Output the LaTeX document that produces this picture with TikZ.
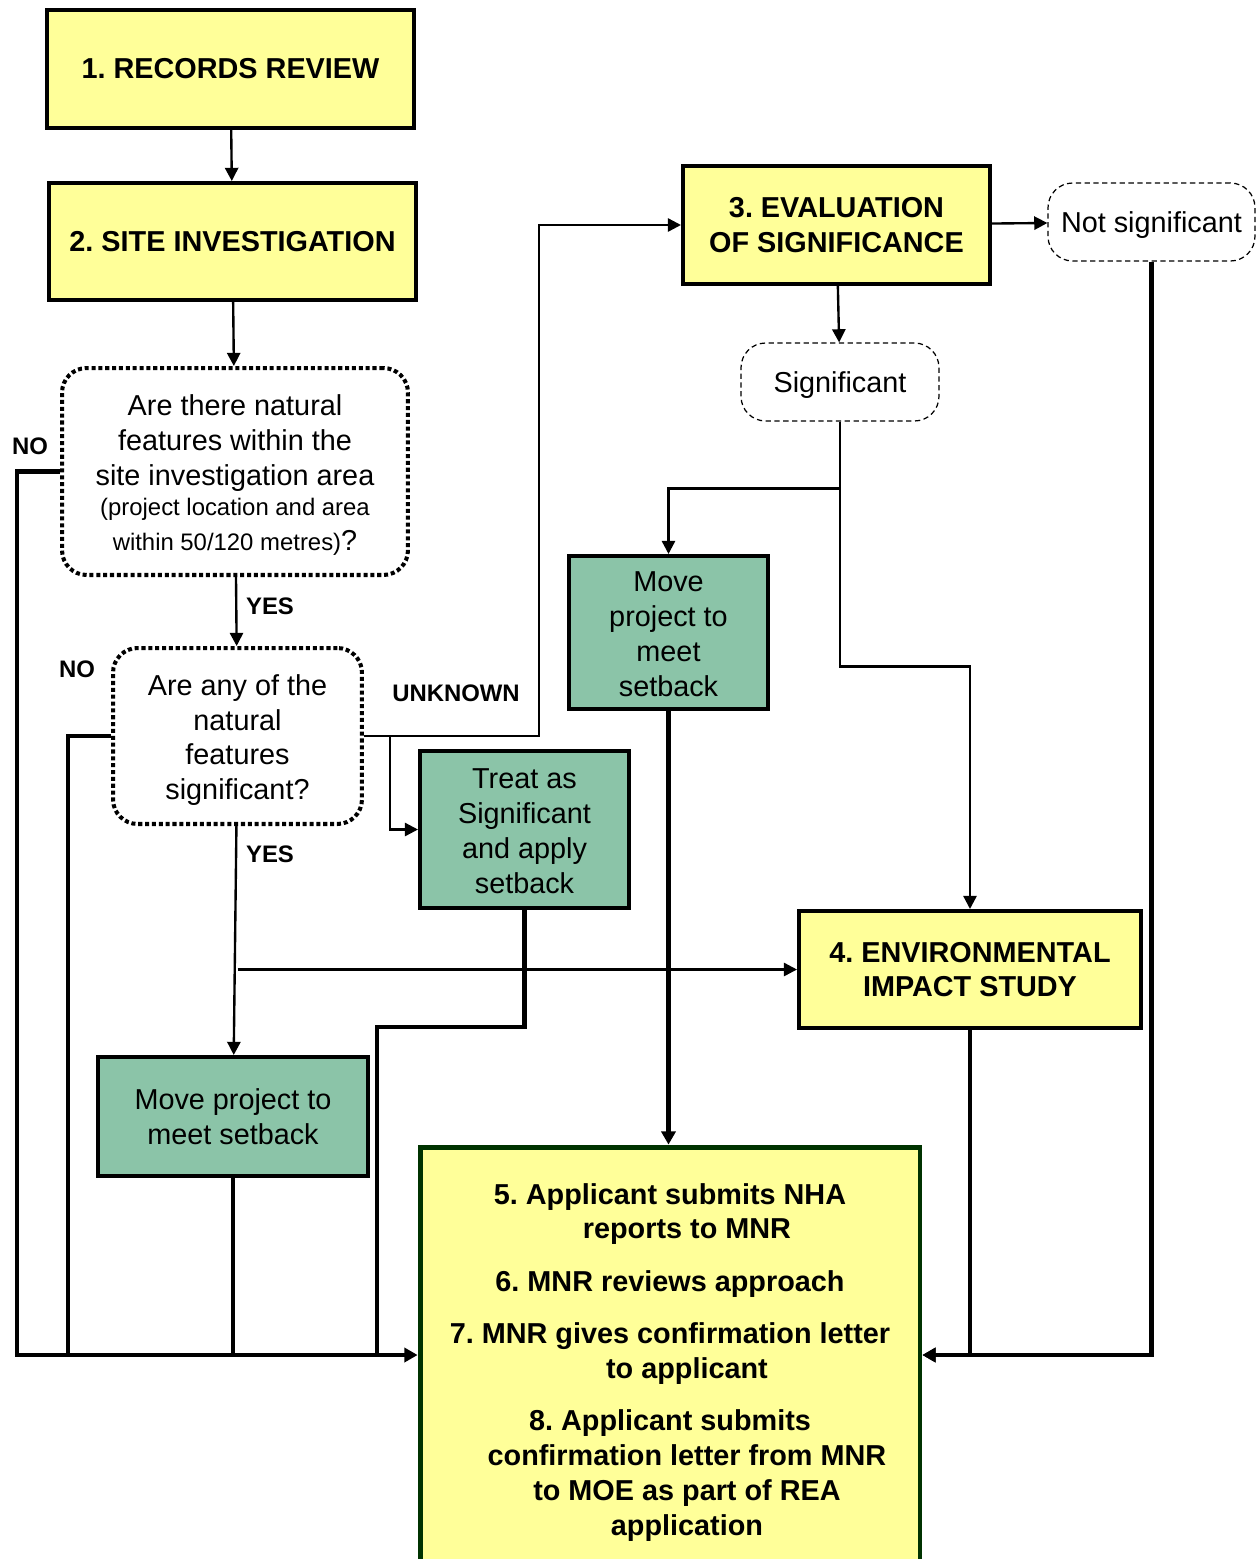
\documentclass[tikz,border=0pt]{standalone}
\usepackage{fontspec}
\setmainfont{Liberation Sans}
\usetikzlibrary{arrows.meta}
\definecolor{boxyellow}{RGB}{255,255,153}
\definecolor{boxgreen}{RGB}{139,196,168}
\definecolor{darkgreen}{RGB}{0,51,0}
\newcommand{\bigtxt}{\fontsize{16.4}{19.8}\selectfont}
\newcommand{\smalltxt}{\fontsize{13.6}{18.7}\selectfont}
\newcommand{\padtop}[1]{\rule{0pt}{#1}}
\newcommand{\indentline}{\hspace*{19.3pt}}

\begin{document}
\frenchspacing
\begin{tikzpicture}[x=0.02cm,y=-0.02cm]
    \useasboundingbox (0,0) rectangle (1259,1559);

    % Node styles
    \tikzstyle{yellow_box} = [rectangle, draw, line width=2.3pt, fill=boxyellow, align=center, inner sep=2pt, font=\bfseries\bigtxt]
    \tikzstyle{green_box} = [rectangle, draw, line width=2.3pt, fill=boxgreen, align=center, inner sep=2pt, font=\bigtxt]
    \tikzstyle{question_box} = [rectangle, draw, line width=2.3pt, dash pattern=on 2.3pt off 1.6pt, rounded corners=14pt, fill=white, align=center, inner sep=2pt, font=\bigtxt]
    \tikzstyle{answer_box} = [rectangle, draw, line width=0.7pt, dash pattern=on 3pt off 2pt, rounded corners=14pt, fill=white, align=center, inner sep=2pt, font=\bigtxt]
    \tikzstyle{label_text} = [font=\bfseries\smalltxt, inner sep=1pt]
    \tikzstyle{thin_arrow} = [line width=1.35pt, -{Triangle[length=7.5pt,width=7.5pt]}]
    \tikzstyle{thick_line} = [line width=2.5pt]
    \tikzstyle{thick_arrow} = [line width=2.5pt, -{Triangle[length=7.5pt,width=8pt]}]

    % Nodes
    \node[yellow_box, minimum width=7.34cm, minimum height=2.36cm] (rec) at (230.5,69) {1. RECORDS REVIEW};
    \node[yellow_box, minimum width=7.34cm, minimum height=2.34cm] (site) at (232.5,241.5) {2. SITE INVESTIGATION};
    \node[question_box, minimum width=6.92cm, minimum height=4.14cm] (q1) at (235,471.5)
        {\padtop{16pt}Are there natural\\features within the\\site investigation area\\[-2.8pt]{\smalltxt(project location and area}\\{\smalltxt within 50/120 metres)}?};
    \node[question_box, minimum width=4.98cm, minimum height=3.52cm] (q2) at (237.5,736)
        {\padtop{16.6pt}Are any of the\\natural\\features\\significant?};
    \node[yellow_box, minimum width=6.14cm, minimum height=2.36cm] (eval) at (836.5,225) {3. EVALUATION\\OF SIGNIFICANCE};
    \node[answer_box, minimum width=4.14cm, minimum height=1.56cm] (notsig) at (1151.5,222) {\padtop{15.4pt}Not significant};
    \node[answer_box, minimum width=3.96cm, minimum height=1.56cm] (sig) at (840,382) {\padtop{15.6pt}Significant};
    \node[green_box, minimum width=3.98cm, minimum height=3.06cm] (move1) at (668.5,632.5) {\padtop{13.2pt}Move\\project to\\meet\\setback};
    \node[green_box, minimum width=4.18cm, minimum height=3.14cm] (treat) at (524.5,829.5) {\padtop{13.2pt}Treat as\\Significant\\and apply\\setback};
    \node[yellow_box, minimum width=6.84cm, minimum height=2.34cm] (env) at (970,969.5) {4. ENVIRONMENTAL\\IMPACT STUDY};
    \node[green_box, minimum width=5.40cm, minimum height=2.38cm] (move2) at (233,1116.5) {Move project to\\meet setback};
    \node[yellow_box, draw=darkgreen, line width=2.8pt, minimum width=10cm, minimum height=8.32cm] (rep) at (670,1355)
        {\padtop{20pt}5. Applicant submits NHA\\\indentline reports to MNR\\[10pt]6. MNR reviews approach\\[10pt]7. MNR gives confirmation letter\\\indentline to applicant\\[10pt]8. Applicant submits\\\indentline confirmation letter from MNR\\\indentline to MOE as part of REA\\\indentline application};

    % Labels
    \node[label_text] (no1) at (30,446) {NO};
    \node[label_text] (no2) at (77,669) {NO};
    \node[label_text] (yes1) at (270,606) {YES};
    \node[label_text] (yes2) at (270,854) {YES};
    \node[label_text] (unknown) at (456,693) {UNKNOWN};

    % Arrows
    \draw[thin_arrow] (rec) -- (site);
    \draw[thin_arrow] (site) -- (q1);
    \draw[thin_arrow] (q1) -- (q2);
    \draw[thin_arrow] (q2) -- (move2);
    \draw[thin_arrow] (q2.south |- env.west) -- (env.west);
    \draw[thin_arrow] (q2.east) -- ++(175,0) |- (eval.west);
    \coordinate (ujoin) at (390,736);
    \draw[thin_arrow] (ujoin) |- (treat.west);
    \draw[thin_arrow] (eval) -- (notsig);
    \draw[thin_arrow] (eval) -- (sig);
    \draw[thin_arrow] (sig.south) -- ++(0,67) -| (move1.north);
    \draw[thin_arrow] (sig.south) -- ++(0,245) -| (env.north);

    % Thick lines to the final box
    \draw[thick_arrow] (q1.west) -- ++(-43,0) |- (rep.west);
    \draw[thick_line] (q2.west) -- ++(-43,0) coordinate (q2no) -- (q2no |- rep.west);
    \draw[thick_line] (move2.south) -- (move2.south |- rep.west);
    \draw[thick_line] (treat.south) |- (377,1027) -- (377,1355);
    \draw[thick_arrow] (move1.south) -- (move1.south |- rep.north);
    \draw[thick_arrow] (env.south) |- (rep.east);
    \draw[thick_arrow] (notsig.south) |- (rep.east);
\end{tikzpicture}
\end{document}
